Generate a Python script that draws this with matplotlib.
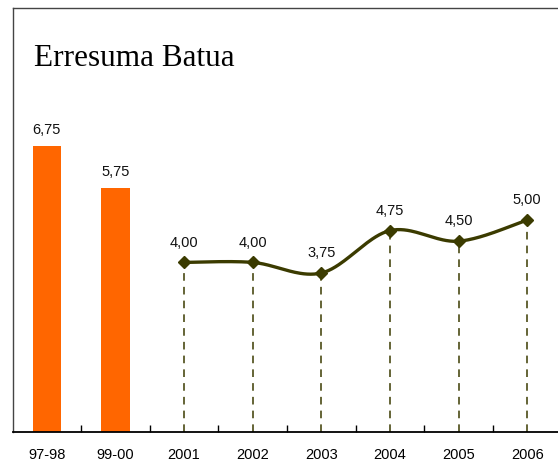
import numpy as np
import matplotlib
matplotlib.use("Agg")
import matplotlib.pyplot as plt

# Data
categories = ["97-98", "99-00", "2001", "2002", "2003", "2004", "2005", "2006"]
bar_labels = ["97-98", "99-00"]
bar_values = [6.75, 5.75]
line_labels = ["2001", "2002", "2003", "2004", "2005", "2006"]
line_values = [4.00, 4.00, 3.75, 4.75, 4.50, 5.00]

BAR_COLOR = "#FF6600"
LINE_COLOR = "#3B3B00"


def fmt(v):
    return f"{v:.2f}".replace(".", ",")


def smooth(xs, ys, n=40, tension=0.5):
    """Cardinal spline through the given points."""
    xs = np.asarray(xs, float)
    ys = np.asarray(ys, float)
    px = np.concatenate([[xs[0]], xs, [xs[-1]]])
    py = np.concatenate([[ys[0]], ys, [ys[-1]]])
    out_x, out_y = [], []
    for i in range(1, len(px) - 2):
        p0 = np.array([px[i - 1], py[i - 1]])
        p1 = np.array([px[i], py[i]])
        p2 = np.array([px[i + 1], py[i + 1]])
        p3 = np.array([px[i + 2], py[i + 2]])
        m1 = tension * (p2 - p0)
        m2 = tension * (p3 - p1)
        t = np.linspace(0, 1, n)[:, None]
        h00 = 2 * t**3 - 3 * t**2 + 1
        h10 = t**3 - 2 * t**2 + t
        h01 = -2 * t**3 + 3 * t**2
        h11 = t**3 - t**2
        pts = h00 * p1 + h10 * m1 + h01 * p2 + h11 * m2
        out_x.extend(pts[:, 0])
        out_y.extend(pts[:, 1])
    return np.array(out_x), np.array(out_y)


plt.rcParams["font.family"] = ["Liberation Sans", "DejaVu Sans"]

fig = plt.figure(figsize=(5.58, 4.64), dpi=100)
ax = fig.add_axes([12.5 / 558, 31 / 464, 549 / 558, 424 / 464])

xpos = {c: i for i, c in enumerate(categories)}
bx = [xpos[c] for c in bar_labels]
lx = [xpos[c] for c in line_labels]

ax.bar(bx, bar_values, width=0.41, color=BAR_COLOR, zorder=2)
for x, v in zip(bx, bar_values):
    ax.annotate(fmt(v), (x, v), xytext=(0, 7), textcoords="offset points",
                ha="center", va="bottom", fontsize=10.5, color="#111111")

# drop lines
for x, v in zip(lx, line_values):
    ax.plot([x, x], [0, v], color=LINE_COLOR, lw=1.1, ls=(0, (5, 4)), zorder=1)

sx, sy = smooth(lx, line_values)
ax.plot(sx, sy, color=LINE_COLOR, lw=2.4, zorder=3, solid_capstyle="round")
ax.plot(lx, line_values, ls="none", marker="D", ms=6, color=LINE_COLOR, zorder=4)
for x, v in zip(lx, line_values):
    ax.annotate(fmt(v), (x, v), xytext=(0, 10), textcoords="offset points",
                ha="center", va="bottom", fontsize=10.5, color="#111111")

ax.set_xlim(-0.5, len(categories) - 0.5)
ax.set_ylim(0, 10)
ax.set_xticks(range(len(categories)))
ax.set_xticklabels(categories, fontsize=10.5)
ax.set_xticks(np.arange(0.5, len(categories) - 0.5, 1), minor=True)
ax.tick_params(axis="x", which="major", length=0, pad=11)
ax.tick_params(axis="x", which="minor", length=5, direction="in", width=1, color="black")
ax.set_yticks([])

for side in ["left", "top", "right"]:
    ax.spines[side].set_color("#444444")
    ax.spines[side].set_linewidth(1.0)
ax.spines["bottom"].set_color("black")
ax.spines["bottom"].set_linewidth(1.3)

fig.text(34 / 558, 1 - 66 / 464, "Erresuma Batua", fontsize=22.5,
         family=["Liberation Serif", "DejaVu Serif"], color="black",
         ha="left", va="baseline")

fig.savefig("out.png", dpi=100)
